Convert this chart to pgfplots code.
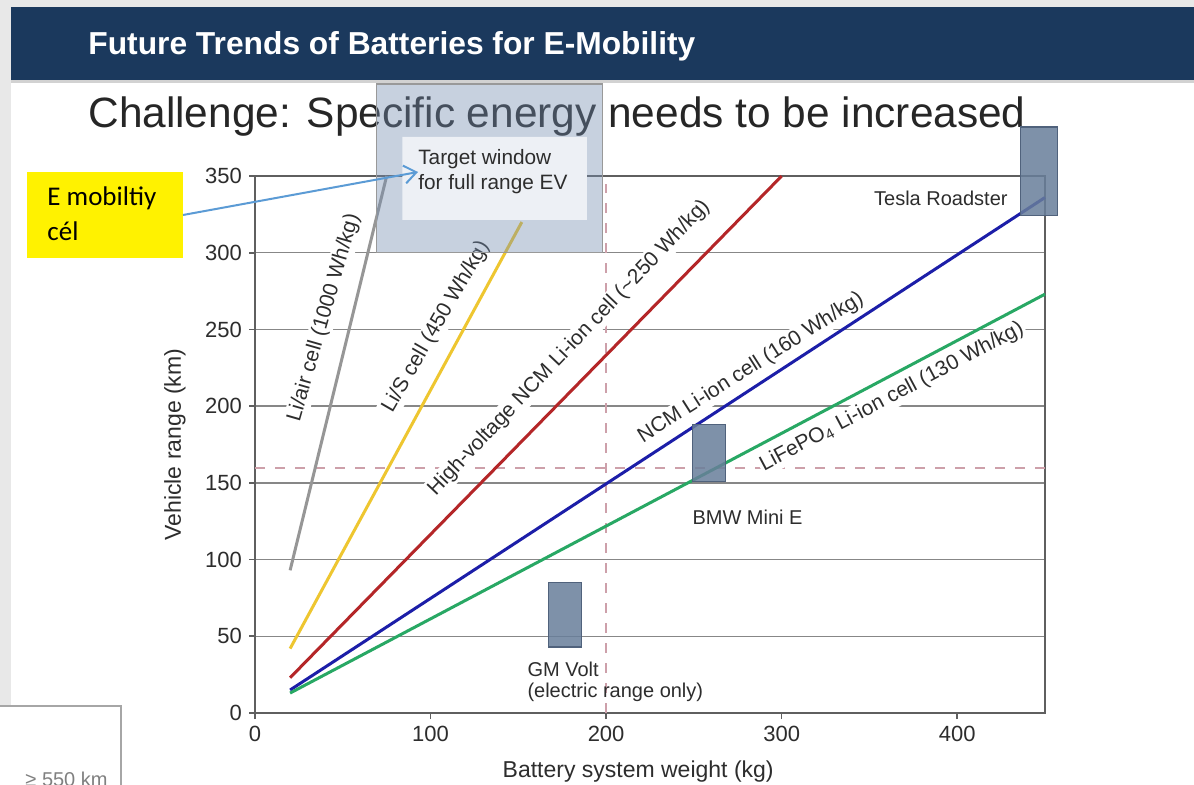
\documentclass[border=0pt]{standalone}
\usepackage{pgfplots}
\pgfplotsset{compat=1.18}
\usepackage{fontspec}
\setmainfont{Liberation Sans}
\newfontfamily\calibri{Carlito}
\usetikzlibrary{arrows.meta}

\definecolor{navy}{RGB}{27,57,93}
\definecolor{pagegray}{RGB}{232,232,232}
\definecolor{textgray}{RGB}{45,45,45}
\definecolor{gridgray}{RGB}{135,135,135}
\definecolor{axisgray}{RGB}{95,95,95}
\definecolor{liair}{RGB}{150,150,150}
\definecolor{lis}{RGB}{238,198,48}
\definecolor{hvncm}{RGB}{180,38,40}
\definecolor{ncm}{RGB}{28,30,168}
\definecolor{lfp}{RGB}{40,168,100}
\definecolor{refline}{RGB}{205,160,170}
\definecolor{carbox}{RGB}{104,126,154}
\definecolor{carboxedge}{RGB}{80,98,124}
\definecolor{targetfill}{RGB}{117,142,177}
\definecolor{targetinner}{RGB}{237,240,245}
\definecolor{arrowblue}{RGB}{91,155,213}

\begin{document}
\begin{tikzpicture}[x=0.5pt,y=0.5pt]
\useasboundingbox (0,0) rectangle (1194,784);
\clip (0,0) rectangle (1194,784);
\fill[white] (0,0) rectangle (1194,784);
% slide frame
\fill[pagegray] (0,78) rectangle (11,784);
\fill[pagegray] (0,777) rectangle (1194,784);
\fill[navy] (11,704) rectangle (1194,777);
\fill[gray!35] (11,701) rectangle (1194,704);
\node[anchor=base west, text=white, inner sep=0] at (88,729)
  {\resizebox{303.5pt}{11.5pt}{\bfseries Future Trends of Batteries for E-Mobility}};
% lower left box
\draw[gray!70, fill=white, line width=0.75pt] (-2,-5) rectangle (121,78);
\node[anchor=base east, inner sep=0, text=gray, font=\fontsize{10}{12}\selectfont] at (108,-2) {≥ 550 km};
% slide title
\node[anchor=base west, inner sep=0, text=black!85, font=\fontsize{21.2}{25}\selectfont] at (88,657)
  {Challenge: Specific energy needs to be increased};

\begin{axis}[
  at={(127.5pt,35.5pt)}, anchor=south west,
  scale only axis, width=395pt, height=268.5pt,
  xmin=0, xmax=450, ymin=0, ymax=350,
  clip=false,
  xtick={0,100,...,400}, ytick={0,50,...,350},
  xtick pos=bottom, ytick pos=left,
  tick align=outside, major tick length=3pt,
  ymajorgrids, grid style={gridgray, line width=0.7pt},
  axis line style={axisgray, line width=1pt},
  tick style={axisgray, line width=0.8pt},
  /pgf/number format/assume math mode=true,
  tick label style={font=\fontsize{11}{13}\selectfont, text=textgray},
  xlabel={Battery system weight (kg)},
  ylabel={Vehicle range (km)},
  label style={font=\fontsize{11.5}{14}\selectfont, text=textgray},
  xlabel style={at={(axis description cs:0.485,-0.1099)}, anchor=center},
  ylabel style={at={(axis description cs:-0.1013,0.5)}, anchor=center},
]
% reference lines: 160 km range and 200 kg battery weight
\addplot[refline, line width=1pt, dash pattern=on 5pt off 5pt] coordinates {(0,160) (450,160)};
\addplot[refline, line width=1pt, dash pattern=on 5pt off 5pt] coordinates {(200,0) (200,345)};

% cell chemistries
\addplot[liair, line width=1.5pt] coordinates {(20,93) (75,350)};
\addplot[lis,   line width=1.5pt] coordinates {(20,42) (152,320)};
\addplot[hvncm, line width=1.5pt] coordinates {(20,23) (300,350)};
\addplot[ncm,   line width=1.5pt] coordinates {(20,15) (450,336)};
\addplot[lfp,   line width=1.5pt] coordinates {(20,13) (450,273)};

\begin{scope}[every node/.style={fill=white, inner sep=1pt, text=textgray, font=\fontsize{10.5}{12}\selectfont}]
\node[rotate=74]   at (39.3,257.5) {Li/air cell (1000 Wh/kg)};
\node[rotate=60]   at (103.1,251.6) {Li/S cell (450 Wh/kg)};
\node[rotate=46.5] at (178.9,237.9) {High-voltage NCM Li-ion cell (\textasciitilde 250 Wh/kg)};
\node[rotate=32.5] at (282.5,224.9) {NCM Li-ion cell (160 Wh/kg)};
\node[rotate=28]   at (362.8,206.0) {LiFePO\textsubscript{4} Li-ion cell (130 Wh/kg)};
\end{scope}

% vehicles
\addplot[fill=carbox, fill opacity=0.85, draw=carboxedge, line width=0.6pt]
  coordinates {(167,43) (186,43) (186,85) (167,85) (167,43)};
\addplot[fill=carbox, fill opacity=0.85, draw=carboxedge, line width=0.6pt]
  coordinates {(249,151) (268,151) (268,188) (249,188) (249,151)};
\addplot[fill=carbox, fill opacity=0.85, draw=carboxedge, line width=0.6pt]
  coordinates {(436,324) (457,324) (457,382) (436,382) (436,324)};

\begin{scope}[every node/.style={inner sep=0, text=textgray, font=\fontsize{10}{12}\selectfont}]
\node[anchor=base west] at (155,24.1) {GM Volt};
\node[anchor=base west] at (155,9.8) {(electric range only)};
\node[anchor=base west] at (249,122.6) {BMW Mini E};
\node[anchor=base east] at (428.9,331) {Tesla Roadster};
\end{scope}

% target window for a full range EV
\addplot[fill=targetfill, fill opacity=0.4, draw=gray!80, line width=0.6pt]
  coordinates {(69,300) (198,300) (198,410) (69,410) (69,300)};
\addplot[fill=targetinner, draw=none]
  coordinates {(84,321.4) (189,321.4) (189,375.5) (84,375.5) (84,321.4)};
\node[anchor=base west, inner sep=0, text=textgray, font=\fontsize{10.4}{12.5}\selectfont] at (92.8,357.2) {Target window};
\node[anchor=base west, inner sep=0, text=textgray, font=\fontsize{10.4}{12.5}\selectfont] at (92.8,341) {for full range EV};
\end{axis}

% callout
\fill[yellow] (27,526) rectangle (183,612);
\node[anchor=base west, inner sep=0, font=\calibri\fontsize{13.5}{16}\selectfont] at (47,579) {E mobiltiy};
\node[anchor=base west, inner sep=0, font=\calibri\fontsize{13.5}{16}\selectfont] at (47,544) {cél};
\draw[arrowblue, line width=1pt, -{Straight Barb[length=6pt,width=9pt]}] (183,569) -- (418,612);
\end{tikzpicture}
\end{document}
